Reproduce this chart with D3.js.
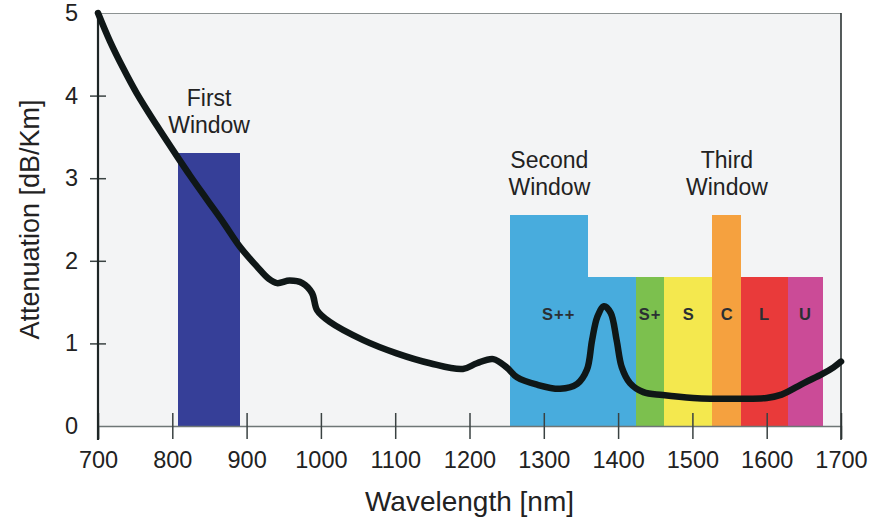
<!DOCTYPE html>
<html>
<head>
<meta charset="utf-8">
<script src="https://cdn.jsdelivr.net/npm/d3@7"></script>
<style>
  html, body { margin: 0; padding: 0; background: #ffffff; }
  svg { display: block; font-family: "Liberation Sans", Arial, Helvetica, sans-serif; }
</style>
</head>
<body>
<svg id="chart" width="873" height="519"></svg>
<script>
// Attenuation curve of silica fibre (wavelength in nm, attenuation in dB/km)
const wavelengths = [700, 716, 734, 752, 779, 806, 824, 846, 869, 891, 914, 930, 941, 958, 975, 988, 995,
  1012, 1057, 1102, 1147, 1191, 1210, 1232, 1250, 1264, 1291, 1322, 1345, 1358, 1365, 1372, 1381,
  1390, 1398, 1405, 1416, 1434, 1460, 1501, 1568, 1600, 1620, 1650, 1675, 1690, 1700];
const attenuation = [5.0, 4.66, 4.33, 4.03, 3.64, 3.27, 3.03, 2.75, 2.46, 2.17, 1.93, 1.78, 1.73, 1.76, 1.73, 1.61, 1.40,
  1.26, 1.04, 0.88, 0.76, 0.69, 0.76, 0.81, 0.71, 0.59, 0.50, 0.45, 0.51, 0.68, 1.04, 1.32, 1.45,
  1.37, 1.04, 0.71, 0.52, 0.41, 0.375, 0.34, 0.33, 0.34, 0.38, 0.52, 0.63, 0.71, 0.78];

// Transmission bands: start / end wavelength and bar height
const bandStart = [808, 1255, 1360, 1424, 1462, 1527, 1566, 1629];
const bandEnd   = [891, 1360, 1424, 1462, 1527, 1566, 1629, 1676];
const bandHeight = [3.3, 2.55, 1.8, 1.8, 1.8, 2.55, 1.8, 1.8];
const bandColor = ["#363f98", "#48acdd", "#48acdd", "#7cc04e", "#f4e84e", "#f5a13f", "#e93a3a", "#cb4b97"];

// Band letters and where they sit along the wavelength axis
const bandLabels = ["S++", "S+", "S", "C", "L", "U"];
const bandLabelAt = [1320, 1443, 1495, 1547, 1597, 1652];

// Window captions (two lines each), centred over a band
const windowLines = [["First", "Window"], ["Second", "Window"], ["Third", "Window"]];
const windowBand = [0, 1, 5];

const xTicks = [700, 800, 900, 1000, 1100, 1200, 1300, 1400, 1500, 1600, 1700];
const yTicks = [0, 1, 2, 3, 4, 5];

const svg = d3.select("#chart");
const plotL = 98, plotR = 841, plotT = 13, plotB = 426;

const x = d3.scaleLinear().domain([700, 1700]).range([plotL, plotR]);
const y = d3.scaleLinear().domain([0, 5]).range([plotB, plotT]);

// plot background
svg.append("rect")
  .attr("x", plotL).attr("y", plotT)
  .attr("width", plotR - plotL).attr("height", plotB - plotT)
  .attr("fill", "#f3f4f5");

// top border
svg.append("line")
  .attr("x1", plotL).attr("x2", plotR).attr("y1", plotT + 0.5).attr("y2", plotT + 0.5)
  .attr("stroke", "#8c9292").attr("stroke-width", 1.2);

// band bars
svg.append("g").selectAll("rect")
  .data(bandStart.map((s, i) => ({ s, e: bandEnd[i], h: bandHeight[i], c: bandColor[i] })))
  .join("rect")
  .attr("x", d => x(d.s))
  .attr("width", d => x(d.e) - x(d.s))
  .attr("y", d => y(d.h))
  .attr("height", d => y(0) - y(d.h))
  .attr("fill", d => d.c)
  .attr("shape-rendering", "crispEdges");

// band letters
svg.append("g").selectAll("text")
  .data(bandLabels)
  .join("text")
  .attr("x", (d, i) => x(bandLabelAt[i]))
  .attr("y", 320)
  .attr("text-anchor", "middle")
  .attr("font-size", 16.5)
  .attr("font-weight", "bold")
  .attr("letter-spacing", 1)
  .attr("fill", "#2b2f33")
  .text(d => d);

// window captions
windowLines.forEach((lines, i) => {
  const b = windowBand[i];
  const cx = x((bandStart[b] + bandEnd[b]) / 2);
  const baseY = y(bandHeight[b]) - 20;
  const t = svg.append("text")
    .attr("text-anchor", "middle")
    .attr("font-size", 23)
    .attr("fill", "#222");
  lines.forEach((ln, j) => {
    t.append("tspan")
      .attr("x", cx)
      .attr("y", baseY - (lines.length - 1 - j) * 27)
      .text(ln);
  });
});

// x axis
const xAxis = svg.append("g")
  .attr("transform", `translate(0,${plotB})`)
  .call(d3.axisBottom(x).tickValues(xTicks).tickSize(13).tickPadding(12).tickFormat(d3.format("d")));
xAxis.select(".domain").attr("stroke", "#6e7676").attr("stroke-width", 1.5);
xAxis.selectAll(".tick line").attr("y1", -13).attr("y2", 13).attr("stroke", "#3a4242").attr("stroke-width", 1.5);
xAxis.selectAll(".tick text").attr("font-size", 23.5).attr("fill", "#222").attr("font-family", "Liberation Sans, Arial, sans-serif");

// y axis
const yAxis = svg.append("g")
  .attr("transform", `translate(${plotL},0)`)
  .call(d3.axisLeft(y).tickValues(yTicks).tickSize(8).tickPadding(12).tickFormat(d3.format("d")));
yAxis.select(".domain").remove();
yAxis.selectAll(".tick line").attr("x1", 8).attr("x2", -8).attr("stroke", "#3a4242").attr("stroke-width", 1.5)
  .filter(d => d === 0 || d === 5).remove();
yAxis.selectAll(".tick text").attr("font-size", 23.5).attr("fill", "#222").attr("font-family", "Liberation Sans, Arial, sans-serif");

// left and right frame lines
svg.append("line")
  .attr("x1", plotL).attr("x2", plotL).attr("y1", plotT).attr("y2", plotB + 14)
  .attr("stroke", "#1e2626").attr("stroke-width", 2.2);
svg.append("line")
  .attr("x1", plotR).attr("x2", plotR).attr("y1", plotT).attr("y2", plotB + 14)
  .attr("stroke", "#2b3333").attr("stroke-width", 1.6);

// attenuation curve
const line = d3.line()
  .x((d, i) => x(wavelengths[i]))
  .y(d => y(d))
  .curve(d3.curveCatmullRom.alpha(0.5));
svg.append("path")
  .datum(attenuation)
  .attr("d", line)
  .attr("fill", "none")
  .attr("stroke", "#0f1717")
  .attr("stroke-width", 6.5)
  .attr("stroke-linecap", "round")
  .attr("stroke-linejoin", "round");

// axis titles
svg.append("text")
  .attr("x", (plotL + plotR) / 2)
  .attr("y", 511)
  .attr("text-anchor", "middle")
  .attr("font-size", 28)
  .attr("fill", "#222")
  .text("Wavelength [nm]");
svg.append("text")
  .attr("transform", `translate(39,${(plotT + plotB) / 2}) rotate(-90)`)
  .attr("text-anchor", "middle")
  .attr("font-size", 27)
  .attr("fill", "#222")
  .text("Attenuation [dB/Km]");
</script>
</body>
</html>
